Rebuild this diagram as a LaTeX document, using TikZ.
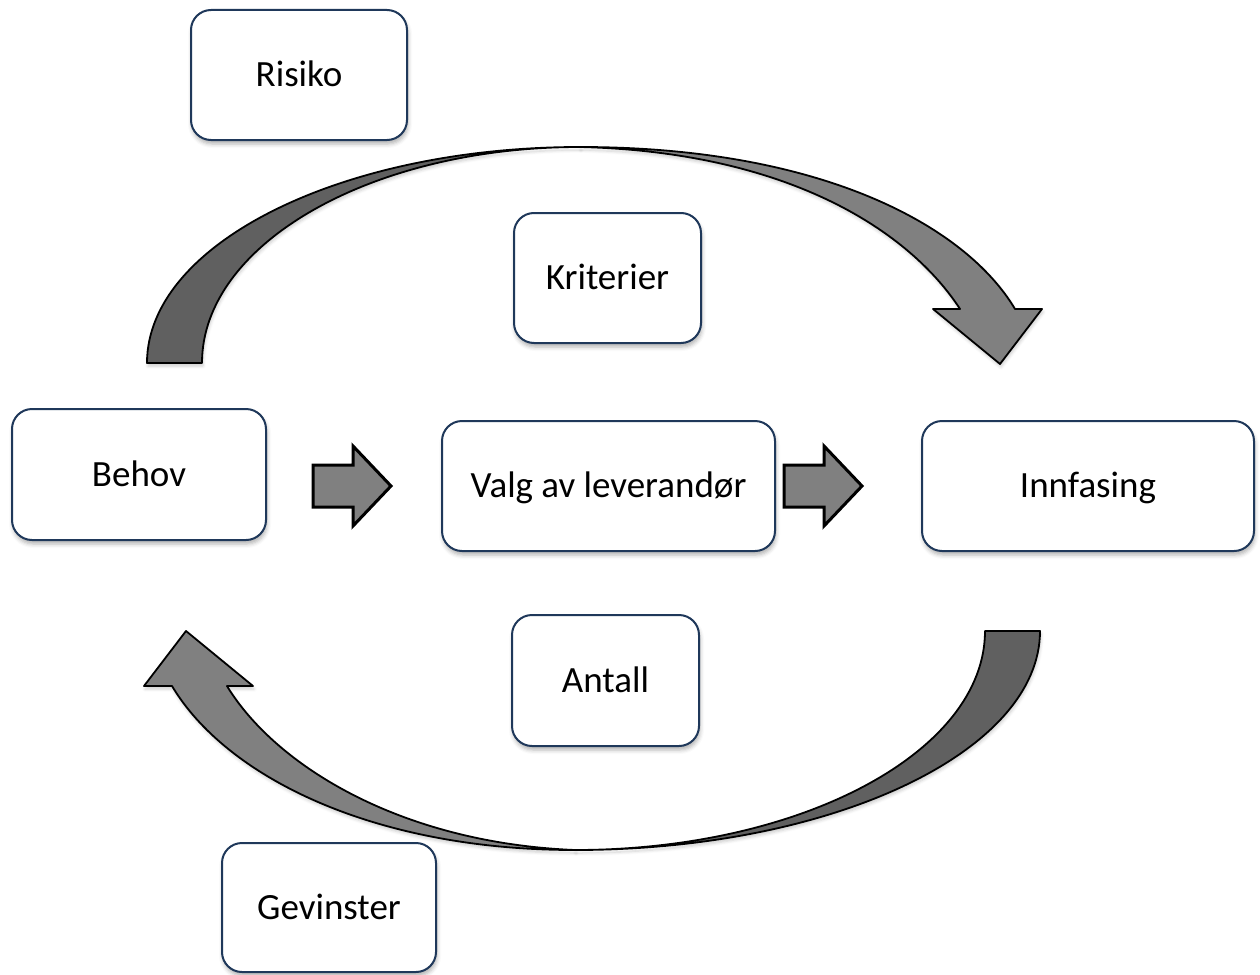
\documentclass[tikz,border=0pt]{standalone}
\usepackage{fontspec}
\setmainfont{Carlito}
\usetikzlibrary{shadows.blur}
\definecolor{boxline}{RGB}{31,56,90}
\definecolor{arrdark}{RGB}{96,96,96}
\definecolor{arrlight}{RGB}{128,128,128}
\begin{document}
\begin{tikzpicture}[x=1pt,y=-1pt,
  stepbox/.style={draw=boxline, line width=2pt, rounded corners=20pt, fill=white,
    inner sep=0pt, font=\fontsize{37}{43}\selectfont, text height=23.8pt, text depth=0pt,
    blur shadow={shadow xshift=1pt, shadow yshift=-4pt, shadow blur radius=4pt, shadow opacity=30}},
  band/.style={draw=black, line width=1.8pt, line join=round,
    blur shadow={shadow xshift=1pt, shadow yshift=-3pt, shadow blur radius=3pt, shadow opacity=20}},
  blockarrow/.style={draw=black, line width=3pt, fill=arrlight, line join=miter}]
\path[use as bounding box] (0,0) rectangle (1260,974);

% process boxes
\node[stepbox, minimum width=216pt, minimum height=130pt] (risiko)    at (299,75)    {Risiko};
\node[stepbox, minimum width=187pt, minimum height=130pt] (kriterier) at (607.5,278) {Kriterier};
\node[stepbox, minimum width=254pt, minimum height=131pt] (behov)     at (139,474.5) {Behov};
\node[stepbox, minimum width=333pt, minimum height=130pt] (valg)      at (608.5,486) {Valg av leverandør};
\node[stepbox, minimum width=332pt, minimum height=130pt] (innfasing) at (1088,486)  {Innfasing};
\node[stepbox, minimum width=187pt, minimum height=131pt] (antall)    at (605.5,680.5) {Antall};
\node[stepbox, minimum width=214pt, minimum height=129pt] (gevinster) at (329,907.5) {Gevinster};

% straight block arrows
\coordinate (a1) at (313,486);
\coordinate (a2) at (784,486);
\foreach \c in {a1,a2}
  \draw[blockarrow] (\c) ++(0,-21) -- ++(40,0) -- ++(0,-19) -- ++(38,40)
    -- ++(-38,40) -- ++(0,-19) -- ++(-40,0) -- cycle;

% upper curved arrow: back band, then front band with head
\filldraw[band, fill=arrdark] (147,363) .. controls (147,244) and (341,147) .. (580,147)
  .. controls (371,147) and (202,244) .. (202,363) -- cycle;
\filldraw[band, fill=arrlight] (580,147) .. controls (820,147) and (965,225) .. (1015,309)
  -- (1042,309) -- (1000,364) -- (933,309) -- (960,309)
  .. controls (910,232) and (790,152) .. (580,147) -- cycle;

% lower curved arrow: back band, then front band with head
\filldraw[band, fill=arrdark] (1040,631) .. controls (1040,752) and (832,850) .. (575,850)
  .. controls (801,850) and (985,752) .. (985,631) -- cycle;
\filldraw[band, fill=arrlight] (575,850) .. controls (370,850) and (225,775) .. (172,686)
  -- (144,686) -- (186,631) -- (253,686) -- (227,686)
  .. controls (275,765) and (400,843) .. (575,850) -- cycle;
\end{tikzpicture}
\end{document}
